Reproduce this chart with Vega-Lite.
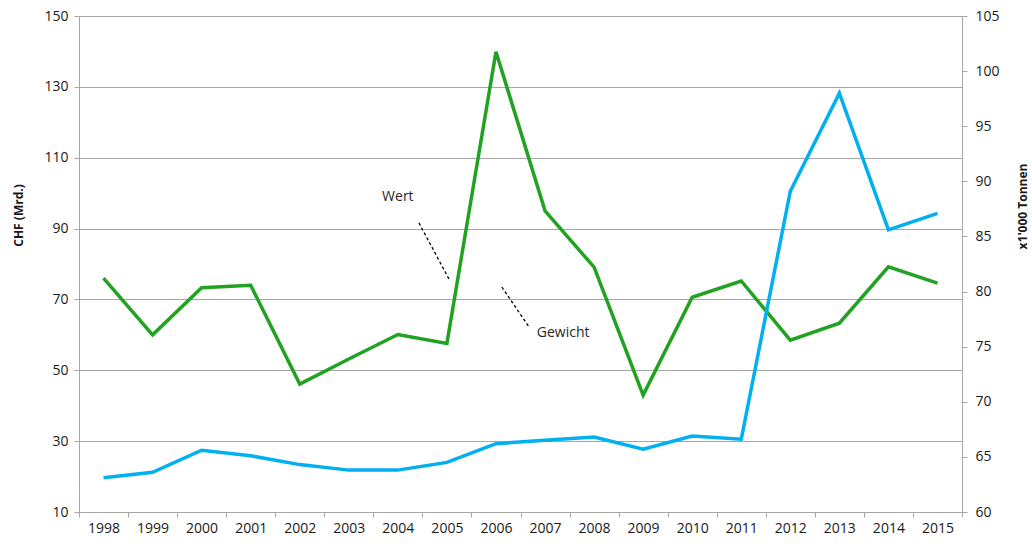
{
  "$schema": "https://vega.github.io/schema/vega-lite/v6.json",
  "autosize": "none",
  "width": 883,
  "height": 496,
  "padding": {"left": 79, "top": 16, "right": 70, "bottom": 35},
  "background": "white",
  "config": {
    "view": {"stroke": null},
    "font": "Open Sans",
    "axis": {
      "labelFont": "Open Sans",
      "labelFontSize": 14,
      "labelColor": "#1a1a1a",
      "titleFont": "Open Sans",
      "titleFontSize": 12,
      "titleFontWeight": "bold",
      "titleColor": "#1a1a1a",
      "domainColor": "#A6A6A6",
      "tickColor": "#A6A6A6",
      "gridColor": "#A6A6A6",
      "tickSize": 5
    }
  },
  "datasets": {
    "main": [
      {"year": 1998, "Wert": 76.0, "Gewicht": 63.1},
      {"year": 1999, "Wert": 60.0, "Gewicht": 63.6},
      {"year": 2000, "Wert": 73.3, "Gewicht": 65.6},
      {"year": 2001, "Wert": 74.0, "Gewicht": 65.1},
      {"year": 2002, "Wert": 46.1, "Gewicht": 64.3},
      {"year": 2003, "Wert": 53.2, "Gewicht": 63.8},
      {"year": 2004, "Wert": 60.1, "Gewicht": 63.8},
      {"year": 2005, "Wert": 57.6, "Gewicht": 64.5},
      {"year": 2006, "Wert": 139.9, "Gewicht": 66.2},
      {"year": 2007, "Wert": 95.0, "Gewicht": 66.5},
      {"year": 2008, "Wert": 79.1, "Gewicht": 66.8},
      {"year": 2009, "Wert": 43.0, "Gewicht": 65.7},
      {"year": 2010, "Wert": 70.6, "Gewicht": 66.9},
      {"year": 2011, "Wert": 75.2, "Gewicht": 66.6},
      {"year": 2012, "Wert": 58.5, "Gewicht": 89.1},
      {"year": 2013, "Wert": 63.3, "Gewicht": 98.0},
      {"year": 2014, "Wert": 79.2, "Gewicht": 85.6},
      {"year": 2015, "Wert": 74.6, "Gewicht": 87.1}
    ],
    "labels": [
      {"year": 2004.0, "value": 98.9, "text": "Wert"},
      {"year": 2007.37, "value": 60.5, "text": "Gewicht"}
    ],
    "leaders": [
      {"x1": 2004.43, "x2": 2005.04, "y1": 91.6, "y2": 75.8},
      {"x1": 2006.12, "x2": 2006.67, "y1": 73.5, "y2": 62.3}
    ]
  },
  "layer": [
    {
      "data": {"name": "main"},
      "mark": {"type": "line", "color": "#22A222", "strokeWidth": 3.5},
      "encoding": {
        "x": {
          "field": "year", "type": "quantitative",
          "scale": {"domain": [1997.5, 2015.5], "nice": false, "zero": false},
          "axis": {
            "title": null,
            "values": [1997.5, 1998.5, 1999.5, 2000.5, 2001.5, 2002.5, 2003.5, 2004.5, 2005.5, 2006.5, 2007.5, 2008.5, 2009.5, 2010.5, 2011.5, 2012.5, 2013.5, 2014.5, 2015.5],
            "labelExpr": "datum.value < 2015 ? toString(datum.value + 0.5) : ''",
            "labelOffset": 24.5,
            "labelFlush": false,
            "labelOverlap": false,
            "labelPadding": 4,
            "grid": false
          }
        },
        "y": {
          "field": "Wert", "type": "quantitative",
          "scale": {"domain": [10, 150], "nice": false, "zero": false},
          "axis": {
            "title": "CHF (Mrd.)",
            "values": [10, 30, 50, 70, 90, 110, 130, 150],
            "grid": true,
            "labelPadding": 6,
            "titleX": -61,
            "titleY": 199,
            "titleAngle": 270,
            "titleAlign": "center",
            "titleBaseline": "middle"
          }
        }
      }
    },
    {
      "data": {"name": "main"},
      "mark": {"type": "line", "color": "#00B0F0", "strokeWidth": 3.5},
      "encoding": {
        "x": {"field": "year", "type": "quantitative"},
        "y": {
          "field": "Gewicht", "type": "quantitative",
          "scale": {"domain": [60, 105], "nice": false, "zero": false},
          "axis": {
            "orient": "right",
            "title": "x1'000 Tonnen",
            "values": [60, 65, 70, 75, 80, 85, 90, 95, 100, 105],
            "grid": false,
            "labelPadding": 8,
            "titleX": 60,
            "titleY": 190,
            "titleAngle": 270,
            "titleAlign": "center",
            "titleBaseline": "middle"
          }
        }
      }
    },
    {
      "data": {"name": "leaders"},
      "mark": {"type": "rule", "color": "#000000", "strokeWidth": 1.3, "strokeDash": [3, 2.5]},
      "encoding": {
        "x": {"field": "x1", "type": "quantitative"},
        "x2": {"field": "x2"},
        "y": {"field": "y1", "type": "quantitative", "scale": {"domain": [10, 150], "nice": false, "zero": false}, "axis": null},
        "y2": {"field": "y2"}
      }
    },
    {
      "data": {"name": "labels"},
      "mark": {"type": "text", "font": "Open Sans", "fontSize": 14, "color": "#262626", "align": "center", "baseline": "middle"},
      "encoding": {
        "x": {"field": "year", "type": "quantitative"},
        "y": {"field": "value", "type": "quantitative", "scale": {"domain": [10, 150], "nice": false, "zero": false}, "axis": null},
        "text": {"field": "text"}
      }
    }
  ],
  "resolve": {"scale": {"y": "independent"}}
}
